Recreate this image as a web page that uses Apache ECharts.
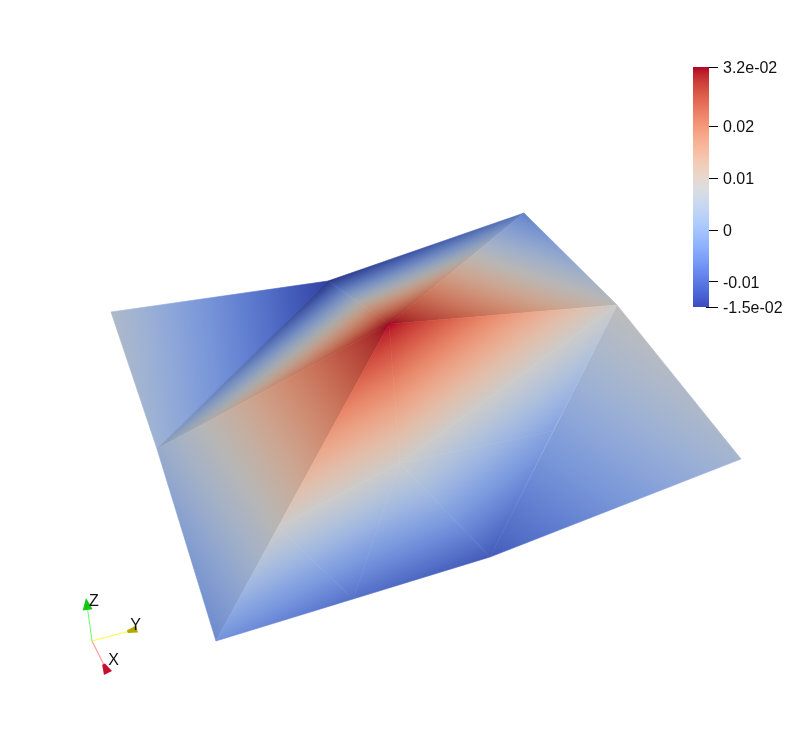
<!DOCTYPE html>
<html>
    <head>
        <meta charset="UTF-8">
        <title></title>
        <script src="https://cdn.jsdelivr.net/npm/echarts@6/dist/echarts.min.js"></script>
        <style>
            html, body { margin: 0; padding: 0; background: #fff; overflow: hidden; }
            #main { width: 787px; height: 733px; }
        </style>
    </head>
    <body>
        <div id="main"></div>
        <script>
            // mesh nodes: A B C D E F G H I, then J K L P
            // J K L P sit on the smooth lower face, their edges don't show
            var nodeX = [111, 328, 524, 617, 741, 490, 216, 157, 389, 553, 353, 400, 278];
            var nodeY = [312, 281, 213, 305, 459, 557, 641, 449, 324, 431, 599, 463, 527];
            var nodeValue = [0.0055, -0.0149, -0.0055, 0.0085, 0.004, -0.0115, -0.0042, 0.0025, 0.0314, -0.002, -0.0089, 0.0085, 0.0085];

            // triangles (node indexes) and the light each face gets at the cold and hot end
            var triA = [0, 7, 1, 2, 3, 7, 8, 8, 6, 12, 11, 11, 11];
            var triB = [1, 1, 2, 3, 4, 8, 3, 11, 12, 11, 5, 9, 3];
            var triC = [7, 8, 8, 8, 5, 6, 11, 12, 10, 10, 10, 5, 9];
            var faceLight = [0.85, 0.72, 0.72, 0.8, 0.85, 0.8, 0.83, 0.83, 0.83, 0.83, 0.83, 0.83, 0.83];
            var faceLightHot = [0.85, 0.82, 0.82, 0.85, 0.85, 0.85, 1, 1, 1, 1, 1, 1, 1];

            // colour legend
            var valueMin = -0.0149;
            var valueMax = 0.0314;
            var tickValues = [-0.0149, -0.01, 0, 0.01, 0.02, 0.0314];
            var tickLabels = ['-1.5e-02', '-0.01', '0', '0.01', '0.02', '3.2e-02'];

            // axes triad
            var triadOrigin = [92, 641];
            var triadNames = ['X', 'Y', 'Z'];
            var triadTipX = [108, 137, 86];
            var triadTipY = [673, 629, 598];
            var triadConeLength = [10, 10, 12];
            var triadConeNear = [1.5, 1.5, 5];
            var triadConeFar = [4.5, 3.5, 0];
            var triadLine = ['#ff8080', '#ffff33', '#66ff66'];
            var triadCone = ['#c8102e', '#b5a800', '#12c812'];
            var triadLabelX = [113.5, 135.5, 94];
            var triadLabelY = [661, 626, 602];

            // cool to warm
            var coolWarm = [
                [59, 76, 192], [68, 90, 204], [77, 104, 215], [87, 117, 225], [98, 130, 234], [108, 142, 241],
                [119, 154, 247], [130, 165, 251], [141, 176, 254], [152, 185, 255], [163, 194, 255], [174, 201, 253],
                [184, 208, 249], [194, 213, 244], [204, 217, 238], [213, 219, 230], [221, 221, 221], [229, 216, 209],
                [236, 211, 197], [241, 205, 185], [245, 197, 173], [247, 187, 160], [247, 177, 148], [247, 166, 135],
                [244, 154, 123], [241, 141, 111], [236, 127, 99], [229, 112, 88], [222, 96, 77], [213, 80, 66],
                [203, 62, 56], [192, 40, 47], [180, 4, 38]
            ];

            function colorAt(t, cold, hot) {
                t = Math.max(0, Math.min(1, t));
                var light = cold + (hot - cold) * t;
                var p = t * (coolWarm.length - 1);
                var i = Math.min(Math.floor(p), coolWarm.length - 2);
                var f = p - i;
                var c = [0, 1, 2].map(function (k) {
                    return Math.round((coolWarm[i][k] + (coolWarm[i + 1][k] - coolWarm[i][k]) * f) * light);
                });
                return 'rgb(' + c.join(',') + ')';
            }

            // stops of the colour map between two values
            function stopsBetween(v0, v1, cold, hot) {
                var n = coolWarm.length - 1;
                var t0 = (v0 - valueMin) / (valueMax - valueMin);
                var t1 = (v1 - valueMin) / (valueMax - valueMin);
                var stops = [{ offset: 0, color: colorAt(t0, cold, hot) }];
                for (var i = 0; i <= n; i++) {
                    var t = i / n;
                    if (t > t0 && t < t1) {
                        stops.push({ offset: (t - t0) / (t1 - t0), color: colorAt(t, cold, hot) });
                    }
                }
                stops.push({ offset: 1, color: colorAt(t1, cold, hot) });
                return stops;
            }

            // a value that is linear over a triangle is a linear gradient on screen
            function faceGradient(pts, vals, cold, hot) {
                var ax = pts[1][0] - pts[0][0], ay = pts[1][1] - pts[0][1];
                var bx = pts[2][0] - pts[0][0], by = pts[2][1] - pts[0][1];
                var da = vals[1] - vals[0], db = vals[2] - vals[0];
                var det = ax * by - ay * bx;
                var gx = (da * by - db * ay) / det;
                var gy = (db * ax - da * bx) / det;
                var lo = 0, hi = 0;
                vals.forEach(function (v, i) {
                    if (v < vals[lo]) lo = i;
                    if (v > vals[hi]) hi = i;
                });
                var k = (vals[hi] - vals[lo]) / (gx * gx + gy * gy);
                return new echarts.graphic.LinearGradient(
                    pts[lo][0], pts[lo][1], pts[lo][0] + gx * k, pts[lo][1] + gy * k,
                    stopsBetween(vals[lo], vals[hi], cold, hot), true
                );
            }

            function renderFace(params, api) {
                var i = params.dataIndex;
                var ids = [triA[i], triB[i], triC[i]];
                var pts = ids.map(function (n) { return api.coord([nodeX[n], nodeY[n]]); });
                var vals = ids.map(function (n) { return nodeValue[n]; });
                var fill = faceGradient(pts, vals, faceLight[i], faceLightHot[i]);
                return {
                    type: 'polygon',
                    shape: { points: pts },
                    style: { fill: fill, stroke: fill, lineWidth: 0.6 }
                };
            }

            function renderLegendBar(params, api) {
                var top = api.coord([0, valueMax]);
                var bottom = api.coord([0, valueMin]);
                var size = api.size([1, 0]);
                return {
                    type: 'rect',
                    shape: { x: top[0] - size[0] / 2, y: top[1], width: size[0], height: bottom[1] - top[1] },
                    style: {
                        fill: new echarts.graphic.LinearGradient(0, 1, 0, 0, stopsBetween(valueMin, valueMax, 1, 1))
                    }
                };
            }

            function renderTriad(params, api) {
                var i = params.dataIndex;
                var o = api.coord(triadOrigin);
                var tip = api.coord([triadTipX[i], triadTipY[i]]);
                var dx = tip[0] - o[0], dy = tip[1] - o[1];
                var len = Math.sqrt(dx * dx + dy * dy);
                var ux = dx / len, uy = dy / len;
                var h = triadConeLength[i], n = triadConeNear[i], f = triadConeFar[i];
                var bx = tip[0] - ux * h, by = tip[1] - uy * h;
                var label = api.coord([triadLabelX[i], triadLabelY[i]]);
                return {
                    type: 'group',
                    children: [
                        { type: 'line', shape: { x1: o[0], y1: o[1], x2: bx, y2: by }, style: { stroke: triadLine[i], lineWidth: 1 } },
                        {
                            type: 'polygon',
                            shape: {
                                points: [
                                    [bx - uy * n, by + ux * n], [bx + uy * n, by - ux * n],
                                    [tip[0] + uy * f, tip[1] - ux * f], [tip[0] - uy * f, tip[1] + ux * f]
                                ]
                            },
                            style: { fill: triadCone[i] }
                        },
                        { type: 'text', x: label[0], y: label[1], style: { text: triadNames[i], fill: '#111', font: '16px "Liberation Sans"', align: 'center', verticalAlign: 'middle' } }
                    ]
                };
            }

            var chart = echarts.init(document.getElementById('main'), null, { renderer: 'canvas' });
            chart.setOption({
                animation: false,
                backgroundColor: '#fff',
                grid: [
                    { left: 0, top: 0, width: 787, height: 733 },
                    { left: 693, top: 67, width: 16, height: 240 }
                ],
                xAxis: [
                    { type: 'value', min: 0, max: 787, show: false, gridIndex: 0 },
                    { type: 'category', data: ['bar'], show: false, gridIndex: 1 }
                ],
                yAxis: [
                    { type: 'value', min: 0, max: 733, inverse: true, show: false, gridIndex: 0 },
                    {
                        type: 'value',
                        gridIndex: 1,
                        position: 'right',
                        offset: -3,
                        min: valueMin,
                        max: valueMax,
                        splitLine: { show: false },
                        axisLine: { show: false },
                        axisTick: { show: true, length: 12, customValues: tickValues, lineStyle: { color: '#000', width: 1 } },
                        axisLabel: {
                            customValues: tickValues,
                            margin: 17,
                            lineHeight: 19,
                            color: '#111',
                            fontFamily: 'Liberation Sans',
                            fontSize: 16,
                            hideOverlap: false,
                            verticalAlign: 'top',
                            padding: [-8, 0, 0, 0],
                            formatter: function (v) {
                                var best = 0;
                                tickValues.forEach(function (t, i) {
                                    if (Math.abs(t - v) < Math.abs(tickValues[best] - v)) best = i;
                                });
                                return tickLabels[best];
                            }
                        }
                    }
                ],
                series: [
                    { type: 'custom', xAxisIndex: 0, yAxisIndex: 0, renderItem: renderFace, data: faceLight, clip: false, silent: true },
                    { type: 'custom', xAxisIndex: 1, yAxisIndex: 1, renderItem: renderLegendBar, data: [[0, valueMax]], silent: true },
                    { type: 'custom', xAxisIndex: 0, yAxisIndex: 0, renderItem: renderTriad, data: triadNames, clip: false, silent: true }
                ]
            });
        </script>
    </body>
</html>
